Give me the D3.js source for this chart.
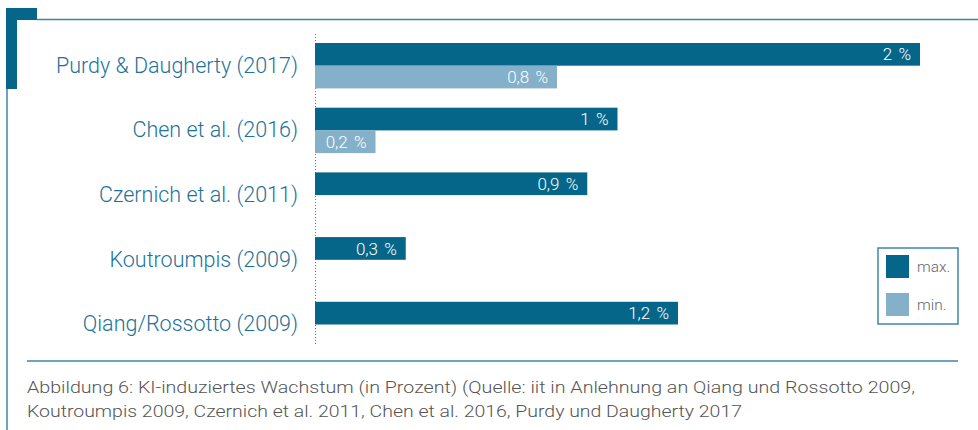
<!DOCTYPE html>
<html><head><meta charset="utf-8">
<script src="https://cdn.jsdelivr.net/npm/d3@7"></script>
<style>body{margin:0;background:#fff}svg{display:block}</style>
</head><body>
<svg id="c" width="978" height="430"></svg>
<script>
const categories = ["Purdy & Daugherty (2017)","Chen et al. (2016)","Czernich et al. (2011)","Koutroumpis (2009)","Qiang/Rossotto (2009)"];
const maxValues = [2, 1, 0.9, 0.3, 1.2];
const minValues = [0.8, 0.2, null, null, null];
const maxLabels = ["2 %","1 %","0,9 %","0,3 %","1,2 %"];
const minLabels = ["0,8 %","0,2 %",null,null,null];
const seriesNames = ["max.","min."];
const captionLines = [
  "Abbildung 6: KI-induziertes Wachstum (in Prozent) (Quelle: iit in Anlehnung an Qiang und Rossotto 2009,",
  "Koutroumpis 2009, Czernich et al. 2011, Chen et al. 2016, Purdy und Daugherty 2017"
];

const dark = "#05668a", light = "#85b0c9", frame = "#3f86a6";
const svg = d3.select("#c");
const font = "Roboto, 'Liberation Sans', sans-serif";

// frame decorations
svg.append("rect").attr("x",6).attr("y",8).attr("width",31).attr("height",12).attr("fill",dark);
svg.append("rect").attr("x",6).attr("y",8).attr("width",11).attr("height",81).attr("fill",dark);
svg.append("line").attr("x1",37).attr("x2",978).attr("y1",19.5).attr("y2",19.5).attr("stroke",frame).attr("stroke-width",1.5);
svg.append("line").attr("x1",7).attr("x2",7).attr("y1",89).attr("y2",430).attr("stroke",frame).attr("stroke-width",1.5);
svg.append("line").attr("x1",27).attr("x2",958).attr("y1",361).attr("y2",361).attr("stroke",frame).attr("stroke-width",1.5);

const x = d3.scaleLinear().domain([0,2]).range([315,920]);
const y = d3.scaleBand().domain(categories).range([33.35,356.85]).paddingInner(0.298).paddingOuter(0.149);
const ySub = d3.scaleBand().domain(seriesNames).range([0,y.bandwidth()]);

// dotted axis
svg.append("line").attr("x1",315.5).attr("x2",315.5).attr("y1",34).attr("y2",345)
  .attr("stroke","#777").attr("stroke-width",1).attr("stroke-dasharray","1,2");

// category labels via axis
const yAxis = d3.axisLeft(y).tickSize(0).tickPadding(0);
const ga = svg.append("g").attr("transform","translate(298,0)").call(yAxis);
ga.select(".domain").remove();
ga.selectAll("text").attr("font-family",font).attr("font-weight",300).attr("font-size",21.5).attr("fill","#1d7298");

const rows = categories.map((c,i)=>({c, max:maxValues[i], min:minValues[i], maxL:maxLabels[i], minL:minLabels[i]}));
const bars = [];
rows.forEach(r=>{
  bars.push({c:r.c, s:"max.", v:r.max, l:r.maxL, col:dark});
  if(r.min!=null) bars.push({c:r.c, s:"min.", v:r.min, l:r.minL, col:light});
});

svg.selectAll("rect.bar").data(bars).join("rect").attr("class","bar")
  .attr("x",x(0)).attr("y",d=>y(d.c)+ySub(d.s)).attr("width",d=>x(d.v)-x(0)).attr("height",ySub.bandwidth())
  .attr("fill",d=>d.col);

svg.selectAll("text.val").data(bars).join("text").attr("class","val")
  .attr("x",d=>x(d.v)-9).attr("y",d=>y(d.c)+ySub(d.s)+ySub.bandwidth()/2)
  .attr("dy","0.36em").attr("text-anchor","end")
  .attr("font-family",font).attr("font-weight",300).attr("font-size",17).attr("fill","#fff")
  .attr("word-spacing","2px")
  .text(d=>d.l);

// legend
const lg = svg.append("g");
lg.append("rect").attr("x",878).attr("y",248).attr("width",80).attr("height",76)
  .attr("fill","#fff").attr("stroke",frame).attr("stroke-width",1.5);
const legendColors = [dark, light];
seriesNames.forEach((s,i)=>{
  lg.append("rect").attr("x",886).attr("y",255+i*38).attr("width",23).attr("height",23).attr("fill",legendColors[i]);
  lg.append("text").attr("x",917).attr("y",266.5+i*38).attr("dy","0.36em")
    .attr("font-family",font).attr("font-weight",300).attr("font-size",15.5).attr("fill","#666").text(s);
});

// caption
const capEnds = [915, 742];
captionLines.forEach((t,i)=>{
  svg.append("text").attr("x",27).attr("y",393+i*24)
    .attr("font-family",font).attr("font-weight",300).attr("font-size",17).attr("fill","#555")
    .attr("textLength",capEnds[i]-27).attr("lengthAdjust","spacingAndGlyphs").text(t);
});
</script>
</body></html>
